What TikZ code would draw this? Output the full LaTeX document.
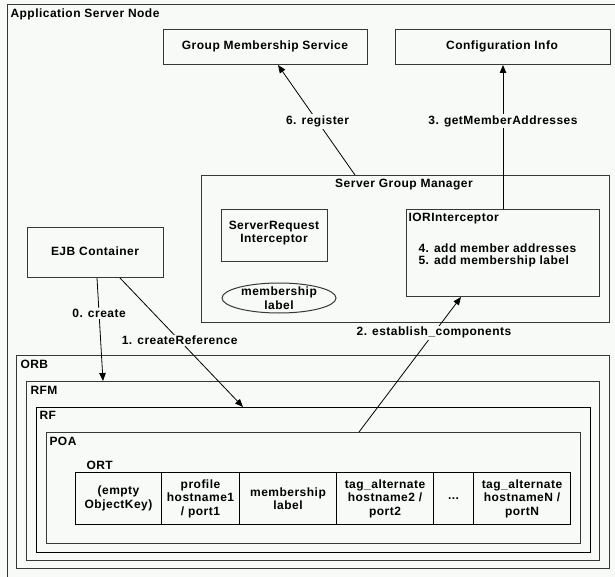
\documentclass[tikz,border=0pt]{standalone}
\usepackage{fontspec}
\setmainfont[LetterSpace=4]{Liberation Sans}
\usetikzlibrary{arrows.meta,shapes.geometric}
\definecolor{paper}{RGB}{247,250,247}
\definecolor{edge}{RGB}{55,55,55}
\begin{document}
\begin{tikzpicture}[x=1pt,y=-1pt,
  font=\fontsize{12}{13.5}\selectfont\bfseries,
  line width=1pt,
  box/.style={draw=edge, inner sep=0pt, anchor=north west},
  txt/.style={inner sep=0pt},
  lbl/.style={fill=paper, inner sep=1.5pt},
  arr/.style={-{Triangle[length=8pt,width=6.5pt]}, line width=0.8pt},
  cell/.style={draw=black, inner sep=0pt, minimum height=52pt, align=center, anchor=north west}]

% page and outer frame (runs off the right and bottom edges)
\fill[paper] (0,0) rectangle (615,577);
\useasboundingbox (0,0) rectangle (615,577);
\node[box, minimum width=620pt, minimum height=585pt] (node) at (7,4) {};
\node[txt, anchor=west] (nodet) at (10,14) {Application Server Node};

% services at the top
\node[box, minimum width=204pt, minimum height=35pt] (gms) at (163,29) {};
\node[txt] (gmst) at (265,46) {Group Membership Service};
\node[box, minimum width=215pt, minimum height=35pt] (ci) at (395,29) {};
\node[txt] (cit) at (502,46) {Configuration Info};

% server group manager and its parts
\node[box, minimum width=408pt, minimum height=147pt] (sgm) at (201,175) {};
\node[txt] (sgmt) at (404,185) {Server Group Manager};
\node[box, minimum width=106pt, minimum height=52pt] (sri) at (221,209) {};
\node[txt, align=center] (srit) at (274,233) {ServerRequest\\Interceptor};
\node[box, minimum width=193pt, minimum height=87pt] (ior) at (406,209) {};
\node[txt, anchor=west] (iort) at (408,219) {IORInterceptor};
\node[txt, anchor=west] (ior4) at (418,248) {4. add member addresses};
\node[txt, anchor=west] (ior5) at (418,261) {5. add membership label};
\node[draw=edge, ellipse, inner sep=0pt, minimum width=114pt, minimum height=30pt] (ml) at (279,298) {};
\node[txt, align=center] (mlt) at (279,298) {membership\\label};

% EJB container
\node[box, minimum width=136pt, minimum height=50pt] (ejb) at (27,227) {};
\node[txt] (ejbt) at (95,251) {EJB Container};

% nested ORB layers
\node[box, minimum width=593pt, minimum height=213pt] (orb) at (16,355) {};
\node[txt, anchor=west] (orbt) at (20,364) {ORB};
\node[box, minimum width=573pt, minimum height=179pt] (rfm) at (26,381) {};
\node[txt, anchor=west] (rfmt) at (30,390) {RFM};
\node[box, draw=black, minimum width=554pt, minimum height=145pt] (rf) at (36,407) {};
\node[txt, anchor=west] (rft) at (39,415) {RF};
\node[box, minimum width=534pt, minimum height=111pt] (poa) at (46,432) {};
\node[txt, anchor=west] (poat) at (49,441) {POA};
\node[txt, anchor=west] (ortt) at (86,465) {ORT};

% object reference template fields
\node[cell, minimum width=86pt] (c1) at (75,472) {(empty\\ObjectKey)};
\node[cell, minimum width=78pt] (c2) at (161,472) {profile\\hostname1\\/ port1};
\node[cell, minimum width=97pt] (c3) at (239,472) {membership\\label};
\node[cell, minimum width=97pt] (c4) at (336,472) {tag\_alternate\\hostname2 /\\port2};
\node[cell, minimum width=40pt] (c5) at (433,472) {...};
\node[cell, minimum width=97pt] (c6) at (473,472) {tag\_alternate\\hostnameN /\\portN};

% interactions
\draw[arr] ([xshift=154pt]sgm.north west) -- node[lbl, pos=0.486] {6. register} ([xshift=115pt]gms.south west);
\draw[arr] ([xshift=97pt]ior.north west) -- node[lbl, pos=0.61] {3. getMemberAddresses} ([xshift=97pt]ior.north west |- ci.south);
\draw[arr] ([xshift=70pt]ejb.south west) -- node[lbl, pos=0.346] {0. create} ([xshift=77pt]rfm.north west);
\draw[arr] ([xshift=93pt]ejb.south west) -- node[lbl, pos=0.485] {1. createReference} ([xshift=207pt]rf.north west);
\draw[arr] ([xshift=313pt]poa.north west) -- node[lbl, pos=0.735] {2. establish\_components} ([xshift=55pt]ior.south west);
\end{tikzpicture}
\end{document}
